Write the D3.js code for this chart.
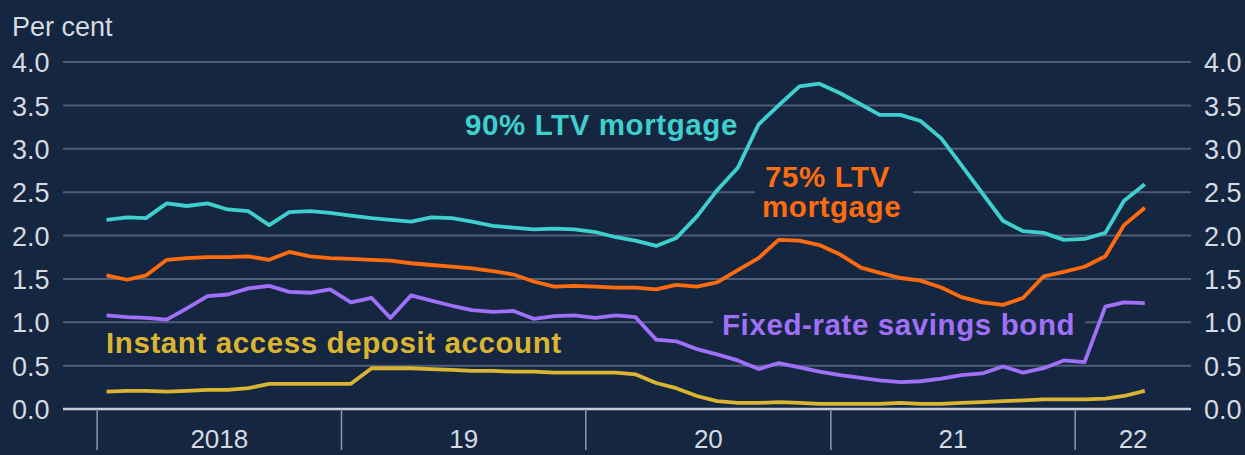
<!DOCTYPE html>
<html>
<head>
<meta charset="utf-8">
<script src="https://cdn.jsdelivr.net/npm/d3@7"></script>
<style>
  body { margin: 0; background: #152640; }
  text { font-family: "Liberation Sans", Arial, sans-serif; }
</style>
</head>
<body>
<div id="chart"></div>
<script>
// constants
const FRAME_WIDTH = 1245;
const FRAME_HEIGHT = 455;
const BG = '#152640';
const X_LEFT = 63;
const X_RIGHT = 1191;
const Y_TOP = 62;
const Y_BOTTOM = 409;

// data, monthly from Jan 2018
const yearLabels = ['2018', '19', '20', '21', '22'];
const yTicks = [0, 0.5, 1, 1.5, 2, 2.5, 3, 3.5, 4];

const ltv90 = [2.18, 2.21, 2.20, 2.37, 2.34, 2.37, 2.30, 2.28, 2.12, 2.27, 2.28, 2.26,
               2.23, 2.20, 2.18, 2.16, 2.21, 2.20, 2.16, 2.11, 2.09, 2.07, 2.08, 2.07,
               2.04, 1.98, 1.94, 1.88, 1.97, 2.22, 2.52, 2.78, 3.28, 3.50, 3.72, 3.75,
               3.64, 3.51, 3.39, 3.39, 3.32, 3.12, 2.81, 2.49, 2.17, 2.05, 2.03, 1.95,
               1.96, 2.03, 2.40, 2.59];
const ltv75 = [1.54, 1.49, 1.54, 1.72, 1.74, 1.75, 1.75, 1.76, 1.72, 1.81, 1.76, 1.74,
               1.73, 1.72, 1.71, 1.68, 1.66, 1.64, 1.62, 1.59, 1.55, 1.47, 1.41, 1.42,
               1.41, 1.40, 1.40, 1.38, 1.43, 1.41, 1.46, 1.60, 1.74, 1.95, 1.94, 1.89,
               1.78, 1.63, 1.57, 1.51, 1.48, 1.40, 1.29, 1.23, 1.20, 1.28, 1.53, 1.58,
               1.64, 1.76, 2.12, 2.32];
const fixedBond = [1.08, 1.06, 1.05, 1.03, 1.16, 1.30, 1.32, 1.39, 1.42, 1.35, 1.34, 1.38,
                   1.23, 1.28, 1.05, 1.31, 1.25, 1.19, 1.14, 1.12, 1.13, 1.04, 1.07, 1.08,
                   1.05, 1.08, 1.06, 0.80, 0.78, 0.69, 0.63, 0.56, 0.46, 0.53, 0.48, 0.43,
                   0.39, 0.36, 0.33, 0.31, 0.32, 0.35, 0.39, 0.41, 0.49, 0.42, 0.47, 0.56,
                   0.54, 1.18, 1.23, 1.22];
const instantAccess = [0.20, 0.21, 0.21, 0.20, 0.21, 0.22, 0.22, 0.24, 0.29, 0.29, 0.29, 0.29,
                       0.29, 0.47, 0.47, 0.47, 0.46, 0.45, 0.44, 0.44, 0.43, 0.43, 0.42, 0.42,
                       0.42, 0.42, 0.40, 0.30, 0.24, 0.15, 0.09, 0.07, 0.07, 0.08, 0.07, 0.06,
                       0.06, 0.06, 0.06, 0.07, 0.06, 0.06, 0.07, 0.08, 0.09, 0.10, 0.11, 0.11,
                       0.11, 0.12, 0.15, 0.21];

const series = [
  {values: instantAccess, color: '#dbb532'},
  {values: fixedBond, color: '#a070f8'},
  {values: ltv75, color: '#ff6b0f'},
  {values: ltv90, color: '#3fcfcf'}
];

// create a frame
const SVG = d3.select('#chart')
              .append('svg')
              .attr('width', FRAME_WIDTH)
              .attr('height', FRAME_HEIGHT)
              .style('display', 'block');

SVG.append('rect')
   .attr('width', FRAME_WIDTH)
   .attr('height', FRAME_HEIGHT)
   .attr('fill', BG);

// scales
const xScale = d3.scaleTime()
                 .domain([new Date(2017, 10, 11), new Date(2022, 5, 23)])
                 .range([X_LEFT, X_RIGHT]);

const yScale = d3.scaleLinear()
                 .domain([0, 4])
                 .range([Y_BOTTOM, Y_TOP]);

// gridlines
SVG.append('g')
   .selectAll('line')
   .data(yTicks.filter(d => d > 0))
   .enter()
   .append('line')
   .attr('x1', X_LEFT)
   .attr('x2', X_RIGHT)
   .attr('y1', d => yScale(d))
   .attr('y2', d => yScale(d))
   .attr('stroke', '#4e5d78')
   .attr('stroke-width', 2);

// left and right axis labels
const leftAxis = SVG.append('g')
   .attr('transform', 'translate(12,0)')
   .call(d3.axisRight(yScale).tickValues(yTicks).tickSize(0).tickFormat(d3.format('.1f')));
const rightAxis = SVG.append('g')
   .attr('transform', 'translate(1204,0)')
   .call(d3.axisRight(yScale).tickValues(yTicks).tickSize(0).tickFormat(d3.format('.1f')));

[leftAxis, rightAxis].forEach(function(ax) {
  ax.select('.domain').remove();
  ax.selectAll('text')
    .attr('x', 0)
    .attr('dy', '0.36em')
    .attr('fill', '#d6dae2')
    .attr('font-size', '27px')
    .attr('font-family', '"Liberation Sans", Arial, sans-serif');
});

SVG.append('text')
   .attr('x', 12)
   .attr('y', 36)
   .text('Per cent')
   .attr('fill', '#d6dae2')
   .attr('font-size', '27px');

// x axis: baseline, year ticks and labels
SVG.append('line')
   .attr('x1', X_LEFT)
   .attr('x2', X_RIGHT)
   .attr('y1', Y_BOTTOM)
   .attr('y2', Y_BOTTOM)
   .attr('stroke', '#c9ced8')
   .attr('stroke-width', 2.5);

const yearStarts = d3.timeYear.range(new Date(2018, 0, 1), new Date(2023, 0, 1));

SVG.append('g')
   .selectAll('line')
   .data(yearStarts)
   .enter()
   .append('line')
   .attr('x1', d => xScale(d))
   .attr('x2', d => xScale(d))
   .attr('y1', Y_BOTTOM)
   .attr('y2', 450)
   .attr('stroke', '#8d97aa')
   .attr('stroke-width', 1.5);

SVG.append('g')
   .selectAll('text')
   .data(yearStarts)
   .enter()
   .append('text')
   .attr('x', function(d) {
     const a = xScale(d);
     const b = Math.min(xScale(d3.timeYear.offset(d, 1)), X_RIGHT);
     return (a + b) / 2;
   })
   .attr('y', 448)
   .attr('text-anchor', 'middle')
   .attr('fill', '#d6dae2')
   .attr('font-size', '26px')
   .text((d, i) => yearLabels[i]);

// backgrounds behind labels that sit on gridlines
SVG.append('rect')
   .attr('x', 755).attr('y', 162).attr('width', 158).attr('height', 64)
   .attr('fill', BG);
SVG.append('rect')
   .attr('x', 713).attr('y', 310).attr('width', 372).attr('height', 32)
   .attr('fill', BG);

// lines
const line = d3.line()
               .x((d, i) => xScale(new Date(2018, i, 15)))
               .y(d => yScale(d));

SVG.append('g')
   .selectAll('path')
   .data(series)
   .enter()
   .append('path')
   .attr('d', d => line(d.values))
   .attr('fill', 'none')
   .attr('stroke', d => d.color)
   .attr('stroke-width', 3.8)
   .attr('stroke-linejoin', 'round');

// series labels
const labels = [
  {text: '90% LTV mortgage', x: 465, y: 135, color: '#3fcfcf'},
  {text: '75% LTV', x: 765, y: 187, color: '#ff6b0f'},
  {text: 'mortgage', x: 762, y: 217, color: '#ff6b0f'},
  {text: 'Fixed-rate savings bond', x: 722, y: 335, color: '#a070f8'},
  {text: 'Instant access deposit account', x: 106, y: 353, color: '#dbb532'}
];

SVG.append('g')
   .selectAll('text')
   .data(labels)
   .enter()
   .append('text')
   .attr('x', d => d.x)
   .attr('y', d => d.y)
   .attr('fill', d => d.color)
   .attr('font-size', '29.5px')
   .attr('font-weight', 'bold')
   .attr('letter-spacing', '0.6px')
   .text(d => d.text);
</script>
</body>
</html>
